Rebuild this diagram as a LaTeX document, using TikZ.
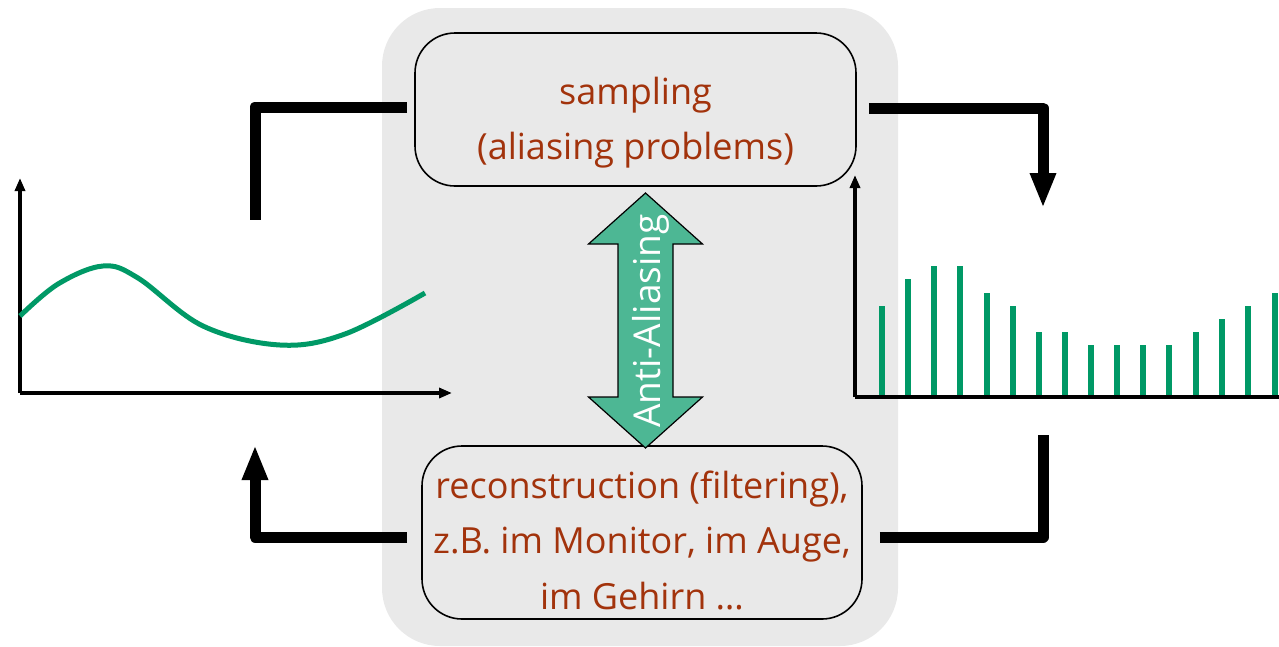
\documentclass[tikz,border=0pt]{standalone}
\usepackage{fontspec}
\setmainfont{Open Sans}
\usetikzlibrary{arrows.meta,calc}

\definecolor{panelgray}{HTML}{E9E9E9}
\definecolor{labeltext}{HTML}{A2330C}
\definecolor{signal}{HTML}{009966}
\definecolor{aafill}{HTML}{4DB794}

\tikzset{
  panel/.style={fill=panelgray},
  stagebox/.style={draw=black, line width=1.6pt, rounded corners=40pt,
    fill=panelgray, inner sep=0pt},
  stagetext/.style={text=labeltext, align=center, inner sep=0pt,
    font=\fontsize{36}{55.5}\selectfont},
  axis/.style={line width=4pt, -{Triangle[length=13pt,width=10pt]}},
  conn/.style={line width=11pt, line join=round, line cap=butt},
  connhead/.style={conn, -{Triangle[length=35pt,width=24pt]}},
  curve/.style={signal, line width=5pt},
  sample/.style={signal, line width=6pt},
}

\begin{document}
\begin{tikzpicture}[x=1pt,y=-1pt]
\useasboundingbox (0,0) rectangle (1279,646);

% grey panel behind the processing stages
\fill[panel, rounded corners=58pt] (382,8) rectangle (898,646);

% processing stages
\node[stagebox, minimum width=441pt, minimum height=153pt] (samp) at (635.5,109.5) {};
\node[stagetext] (samptext) at ($(samp.center)+(0,13)$)
  {sampling\\(aliasing problems)};
\node[stagebox, minimum width=440pt, minimum height=173pt] (recon) at (642,532.5) {};
\node[stagetext] (recontext) at ($(recon.center)+(0,7.5)$)
  {reconstruction (filtering),\\z.B. im Monitor, im Auge,\\im Gehirn \dots};

% anti-aliasing double arrow between the stages
\coordinate (aa) at (645.5,320.5);
\draw[fill=aafill, line width=1.2pt, line join=miter]
  ($(aa)+(0,-127.5)$) -- ($(aa)+(57,-76.5)$) -- ($(aa)+(27.5,-76.5)$)
  -- ($(aa)+(27.5,76.5)$) -- ($(aa)+(57,76.5)$) -- ($(aa)+(0,127.5)$)
  -- ($(aa)+(-57,76.5)$) -- ($(aa)+(-27.5,76.5)$) -- ($(aa)+(-27.5,-76.5)$)
  -- ($(aa)+(-57,-76.5)$) -- cycle;
\node[rotate=90, text=white, inner sep=0pt, font=\fontsize{37}{37}\selectfont] (aatext) at (651,321) {Anti-Aliasing};

% continuous signal
\coordinate (lo) at (20,393);
\coordinate (ly) at (20,178);
\coordinate (lx) at (452,393);
\draw[axis] (lo) -- (ly);
\draw[axis] (lo) -- (lx);
\draw[curve] plot[smooth, tension=0.6] coordinates
  {(20,316) (58,284) (103,266) (138,278) (203,326) (280,345) (345,334) (425,293)};

% sampled signal
\coordinate (ro) at (855,397);
\coordinate (ry) at (855,175);
\coordinate (rx) at (1279,397);
\draw[axis] (ro) -- (ry);
\draw[line width=4pt] (ro) -- (rx);
\foreach \x/\h in {882/306, 908/279, 934/266, 960/266, 987/293, 1013/306,
                   1039/332, 1065/332, 1091/345, 1117/345, 1143/345, 1169/345,
                   1196/332, 1222/319, 1248/306, 1275/293}
  \draw[sample] (\x,395) -- (\x,\h);

% loop connectors
\coordinate (tl) at (255,220);
\coordinate (tr) at (1043,208);
\coordinate (br) at (1043,435);
\coordinate (bl) at (255,445);
\draw[conn] ($(samp.west)+(-7,-2.5)$) -| (tl);
\draw[connhead] ($(samp.east)+(12,-1.5)$) -| (tr);
\draw[conn] ($(recon.east)+(17,4.5)$) -| (br);
\draw[connhead] ($(recon.west)+(-14,4.5)$) -| (bl);
\end{tikzpicture}
\end{document}
